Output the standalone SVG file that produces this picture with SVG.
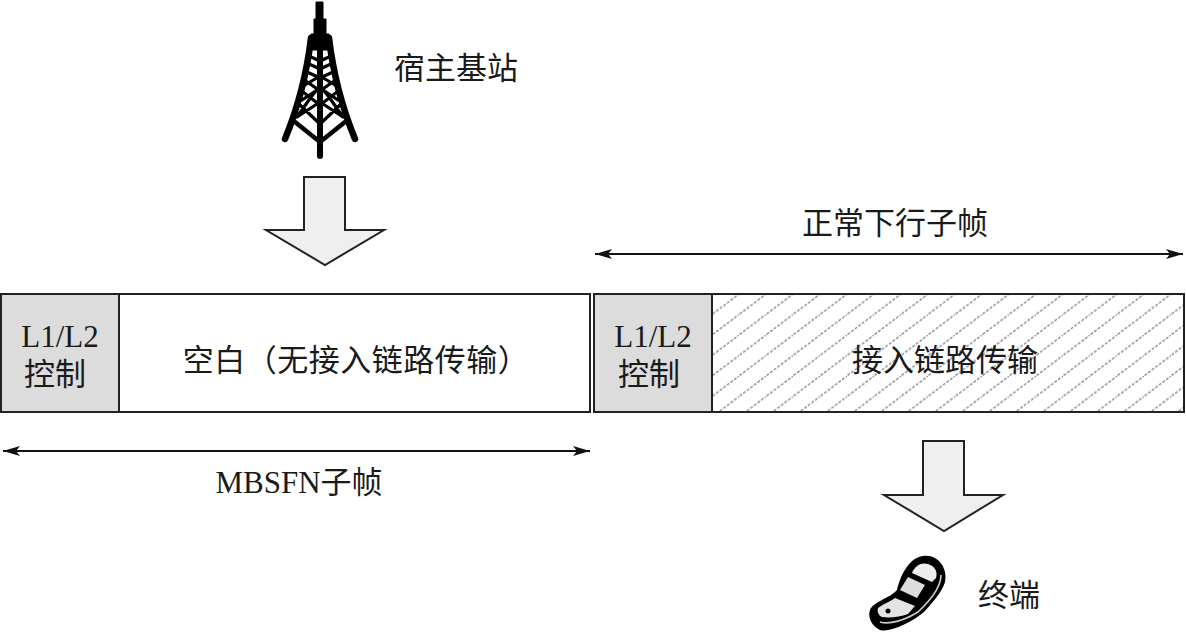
<svg xmlns="http://www.w3.org/2000/svg" width="1186" height="634" viewBox="0 0 1186 634">
<style>
text{font-family:"Liberation Serif","Noto Sans CJK SC",serif;font-size:31px;fill:#1a1a1a;text-anchor:middle}
.box{stroke:#222;stroke-width:2;fill:#fff}
.ctl{stroke:#222;stroke-width:2;fill:#dcdcdc}
.big{fill:#efefef;stroke:#222;stroke-width:2;stroke-linejoin:miter}
.dim{stroke:#111;stroke-width:2;fill:none;marker-start:url(#a);marker-end:url(#a)}
.t{stroke:#000;fill:none;stroke-linecap:round;stroke-linejoin:round}
</style>
<defs>
<marker id="a" markerUnits="userSpaceOnUse" markerWidth="18" markerHeight="12" refX="17" refY="6" orient="auto-start-reverse"><path d="M0 1L17 6L0 11L4 6Z" fill="#111"/></marker>
<pattern id="h" patternUnits="userSpaceOnUse" width="27" height="20.5" patternTransform="translate(712 294)"><path d="M-3 22.75L30 -2.25" stroke="#999" stroke-width="1.6" stroke-dasharray="3 1.5" fill="none"/></pattern>
</defs>
<g id="tower">
<path d="M316 2h7v17h3v15h3l3 16h-24l3-16h3v-15h2Z" fill="#000" stroke="#000"/>
<path d="M320 36V156" class="t" stroke-width="6"/>
<path class="t" stroke-width="6.5" d="M311 38C307 72 299 105 285 139M329 38C333 72 341 105 355 139"/>
<path class="t" stroke-width="4.5" d="M295 122L320 142L345 122"/>
<path class="t" stroke-width="3.2" d="M300 105L320 124L340 105M297 117L311 97L320 86L329 97L343 117M303 92L320 105L337 92M306 81L320 91L334 81M297 117L320 102L343 117M302 100L320 88L338 100M305 85L320 76L335 85M307 72L320 78L333 72M309 64L320 69L331 64M311 57L320 61L329 57"/>
</g>
<g id="host-label"><text x="456" y="79">宿主基站</text></g>
<g id="normal-label"><text x="895" y="234">正常下行子帧</text></g>
<g id="mbsfn-label"><text x="299" y="493">MBSFN子帧</text></g>
<g id="arrow-down-1"><path class="big" d="M304 177H345V230H384L325 265L266 230H304Z"/></g>
<g id="arrow-down-2"><path class="big" d="M923 441H964V495H1003L944 531L884 495H923Z"/></g>
<g id="mbsfn-ctrl"><rect class="ctl" x="1" y="294" width="118" height="118"/><text x="60" y="347">L1/L2</text><text x="55" y="385">控制</text></g>
<g id="mbsfn-blank"><rect class="box" x="119" y="294" width="471" height="118"/><text x="356" y="371" style="letter-spacing:0.5px">空白（无接入链路传输）</text></g>
<g id="normal-ctrl"><rect class="ctl" x="594" y="294" width="118" height="118"/><text x="653" y="347">L1/L2</text><text x="649" y="385">控制</text></g>
<g id="normal-data"><rect x="712" y="294" width="472" height="118" fill="#fff"/><rect class="box" x="712" y="294" width="472" height="118" style="fill:url(#h)"/><text x="945" y="371">接入链路传输</text></g>
<g id="connectors">
<path class="dim" d="M595 254H1183"/>
<path class="dim" d="M3 451H590"/>
</g>
<g id="phone">
<path d="M870 610C873 602 890 598 897 590C900 577 908 558 923 556C938 554 948 568 945 582C942 593 930 605 924 612C912 622 890 633 880 630C873 627 867 618 870 610Z" fill="#000"/>
<path d="M878 608C885 603 893 600 895 598L915 606L908 614C900 617 890 618 882 617C878 615 877 611 878 608Z" fill="#e4e4e4"/>
<path d="M908 577L925 585L917 598L900 590Z" fill="#ddd"/>
<path d="M912 573C915 565 922 562 928 564C935 566 938 572 936 578L932 582Z" fill="#eee"/>
<path d="M941 575C941 590 925 605 918 612C905 620 890 625 880 622" fill="none" stroke="#ccc" stroke-width="1.6"/>
<circle cx="888" cy="611" r="2.5" fill="#000"/>
</g>
<g id="ue-label"><text x="1009" y="606">终端</text></g>
</svg>
